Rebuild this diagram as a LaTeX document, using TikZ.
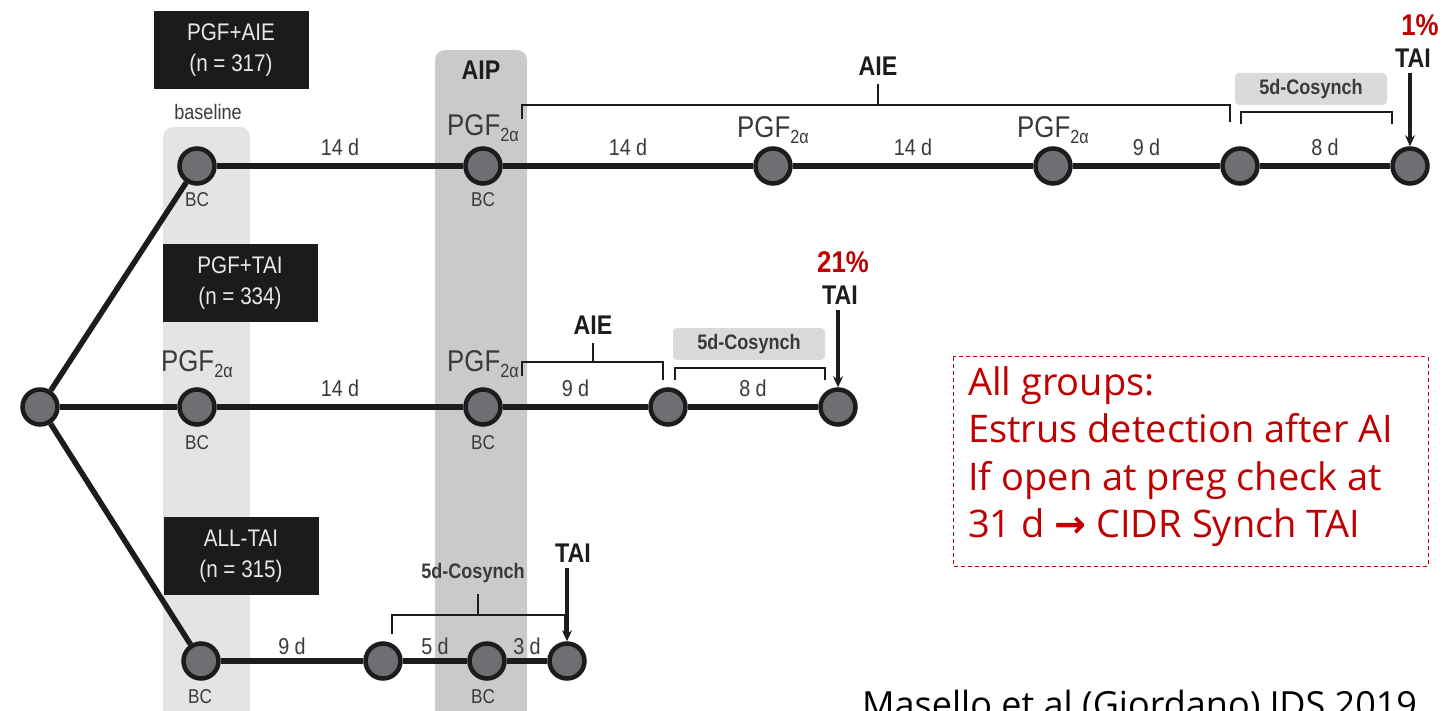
\documentclass[tikz,border=0pt]{standalone}
\usepackage{fontspec}
\setmainfont{Liberation Sans}
\newfontfamily\nf[FakeStretch=0.86]{Liberation Sans}
\newfontfamily\notefont{Open Sans}
\newfontfamily\symfont{DejaVu Sans}
\usetikzlibrary{arrows.meta}
\definecolor{dk}{HTML}{1C1C1C}
\definecolor{dotgray}{HTML}{6E6F72}
\definecolor{txt}{HTML}{3A3A3A}
\definecolor{bandA}{HTML}{E3E4E6}
\definecolor{bandB}{HTML}{C9CACC}
\definecolor{boxblack}{HTML}{1D1A1A}
\definecolor{boxtext}{HTML}{E8E8E8}
\definecolor{cosgray}{HTML}{D9DADC}
\definecolor{redc}{HTML}{C00000}
\newcommand{\pgfa}{PGF{\fontsize{19}{19}\selectfont\raisebox{-0.3em}{2α}}}
\begin{document}
\begin{tikzpicture}[x=1pt,y=-1pt,
  dot/.style={circle, draw=dk, line width=4.5pt, fill=dotgray, minimum size=35pt, inner sep=0pt},
  tline/.style={line width=5.5pt, draw=dk},
  lbl/.style={font=\nf\fontsize{23}{23}\selectfont, text=txt, inner sep=1pt},
  pgf/.style={font=\nf\fontsize{30}{30}\selectfont, text=txt, inner sep=0pt},
  bc/.style={font=\nf\fontsize{20}{20}\selectfont, text=txt, inner sep=0pt},
  hdr/.style={font=\nf\bfseries\fontsize{27}{27}\selectfont, text=dk, inner sep=0pt},
  grp/.style={fill=boxblack, text=boxtext, font=\nf\fontsize{24}{31}\selectfont, align=center, minimum width=155pt, minimum height=78pt, inner sep=0pt},
  pct/.style={text=redc, font=\nf\bfseries\fontsize{30}{30}\selectfont, inner sep=0pt},
  brk/.style={line width=2.5pt, draw=dk},
  arr/.style={line width=3.5pt, draw=dk, -{Stealth[length=11pt,width=10pt]}},
  cosbox/.style={fill=cosgray, rounded corners=4pt, font=\nf\bfseries\fontsize{21}{21}\selectfont, text=txt, minimum width=152pt, minimum height=32pt, inner sep=0pt},
  costxt/.style={font=\nf\bfseries\fontsize{21}{21}\selectfont, text=txt, inner sep=0pt},
]
\useasboundingbox (0,0) rectangle (1452,711);
% bands
\fill[bandA, rounded corners=10pt] (163,127) rectangle (250,730);
\fill[bandB, rounded corners=10pt] (435,50) rectangle (527,730);
\node[font=\nf\fontsize{21}{21}\selectfont, text=txt] (baseline) at (208,112) {baseline};
\node[hdr] (aip) at (481,70) {AIP};

% group boxes
\node[grp] (g1) at (231,50) {PGF+AIE\\(n = 317)};
\node[grp] (g2) at (240,283) {PGF+TAI\\(n = 334)};
\node[grp] (g3) at (241,556) {ALL-TAI\\(n = 315)};

% nodes
\node[dot] (r) at (40,407) {};
\node[dot] (t1) at (197,166) {};
\node[dot] (t2) at (483,166) {};
\node[dot] (t3) at (773,166) {};
\node[dot] (t4) at (1053,166) {};
\node[dot] (t5) at (1240,166) {};
\node[dot] (t6) at (1410,166) {};
\node[dot] (m1) at (197,407) {};
\node[dot] (m2) at (483,407) {};
\node[dot] (m3) at (668,407) {};
\node[dot] (m4) at (838,407) {};
\node[dot] (b1) at (201,661) {};
\node[dot] (b2) at (383,661) {};
\node[dot] (b3) at (487,661) {};
\node[dot] (b4) at (567,661) {};

% connectors
\draw[tline] (r) -- (t1);
\draw[tline] (r) -- (m1);
\draw[tline] (r) -- (b1);
\draw[tline] (t1) -- node[lbl, above=7pt] {14 d} (t2);
\draw[tline] (t2) -- node[lbl, above=7pt] {14 d} (t3);
\draw[tline] (t3) -- node[lbl, above=7pt] {14 d} (t4);
\draw[tline] (t4) -- node[lbl, above=7pt] {9 d} (t5);
\draw[tline] (t5) -- node[lbl, above=7pt] {8 d} (t6);
\draw[tline] (m1) -- node[lbl, above=7pt] {14 d} (m2);
\draw[tline] (m2) -- node[lbl, above=7pt] {9 d} (m3);
\draw[tline] (m3) -- node[lbl, above=7pt] {8 d} (m4);
\draw[tline] (b1) -- node[lbl, above=3pt] {9 d} (b2);
\draw[tline] (b2) -- node[lbl, above=3pt] {5 d} (b3);
\draw[tline] (b3) -- node[lbl, above=3pt] {3 d} (b4);

% PGF / BC labels
\node[pgf] (p1) at (483,128) {\pgfa};
\node[pgf] (p2) at (773,130) {\pgfa};
\node[pgf] (p3) at (1053,130) {\pgfa};
\node[pgf] (p4) at (197,364) {\pgfa};
\node[pgf] (p5) at (483,364) {\pgfa};
\node[bc] (bc1) at (197,200) {BC};
\node[bc] (bc2) at (483,200) {BC};
\node[bc] (bc3) at (197,443) {BC};
\node[bc] (bc4) at (483,443) {BC};
\node[bc] (bc5) at (200,697) {BC};
\node[bc] (bc6) at (483,697) {BC};

% top row brackets
\node[hdr] (aie1) at (878,66) {AIE};
\draw[brk] (522,119) -- (522,105) -- (1230,105) -- (1230,122);
\draw[brk] (878,105) -- (878,84);
\node[cosbox] (cos1) at (1311,89) {5d-Cosynch};
\draw[brk] (1241,124) -- (1241,112) -- (1392,112) -- (1392,124);
\node[pct] (pc1) at (1420,25) {1\%};
\node[hdr] (tai1) at (1413,58) {TAI};
\draw[arr] (t6.north |- tai1.south) ++(0,6) -- (t6.north);

% middle row brackets
\node[hdr] (aie2) at (593,325) {AIE};
\draw[brk] (522,376) -- (522,362) -- (663,362) -- (663,380);
\draw[brk] (593,362) -- (593,343);
\node[cosbox] (cos2) at (749,344) {5d-Cosynch};
\draw[brk] (675,380) -- (675,368) -- (825,368) -- (825,380);
\node[pct] (pc2) at (843,262) {21\%};
\node[hdr] (tai2) at (840,295) {TAI};
\draw[arr] (m4.north |- tai2.south) ++(0,6) -- (m4.north);

% bottom row brackets
\node[costxt] (cos3) at (473,573) {5d-Cosynch};
\draw[brk] (392,634) -- (392,615) -- (565,615) -- (565,634);
\draw[brk] (478,615) -- (478,594);
\node[hdr] (tai3) at (573,553) {TAI};
\draw[arr] (b4.north |- tai3.south) ++(0,6) -- (b4.north);

% note box
\draw[redc, line width=1pt, dash pattern=on 4pt off 3pt] (953,357) rectangle (1428,566);
\node[anchor=north west, text=redc, font=\notefont\fontsize{38}{47.5}\selectfont, align=left, inner sep=0pt] (note) at (968,366)
 {All groups:\\Estrus detection after AI\\If open at preg check at\\31 d {\symfont\bfseries →} CIDR Synch TAI};
\node[anchor=base west, font=\notefont\fontsize{36}{36}\selectfont, text=black, inner sep=0pt] (cite) at (862,717) {Masello et al (Giordano) JDS 2019};
\end{tikzpicture}
\end{document}
